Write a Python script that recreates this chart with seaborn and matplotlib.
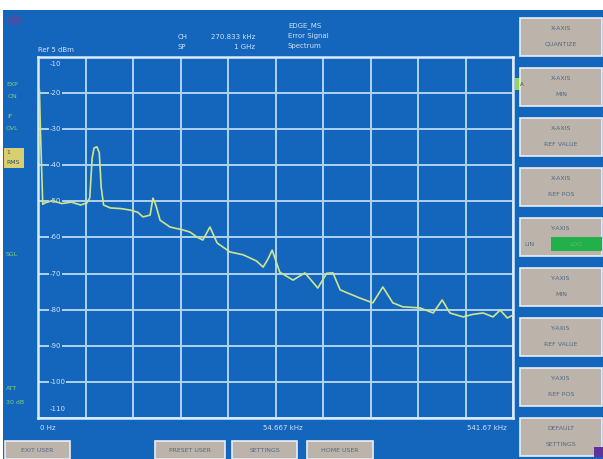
import matplotlib
matplotlib.use('Agg')
import matplotlib.pyplot as plt
import pandas as pd
import seaborn as sns
from matplotlib.patches import Rectangle, Circle

# Trace (x in grid divisions, y in dB)
div = [0.03, 0.05, 0.1, 0.15, 0.3, 0.5, 0.7, 0.9, 1.03, 1.09, 1.14, 1.18, 1.24, 1.29, 1.33,
       1.38, 1.52, 1.75, 1.94, 2.1, 2.21, 2.36, 2.42, 2.48, 2.57, 2.78, 3.05, 3.2, 3.35,
       3.47, 3.62, 3.77, 4.04, 4.32, 4.6, 4.74, 4.84, 4.93, 5.09, 5.37, 5.62, 5.89, 6.08,
       6.21, 6.36, 6.78, 7.05, 7.26, 7.47, 7.68, 8.04, 8.32, 8.51, 8.67, 8.95, 9.15, 9.37,
       9.58, 9.73, 9.88, 10.0]
level = [-19.1, -30.0, -50.8, -50.4, -49.8, -50.6, -50.2, -51.0, -50.4, -49.0, -38.0, -35.2,
         -34.9, -36.5, -46.0, -51.0, -51.8, -52.0, -52.4, -53.0, -54.3, -53.8, -49.1, -51.0,
         -55.2, -57.1, -57.9, -58.5, -59.9, -60.7, -57.1, -61.5, -64.0, -64.8, -66.5, -68.2,
         -66.0, -63.5, -69.6, -71.8, -69.8, -74.0, -69.9, -69.8, -74.5, -76.8, -78.1, -73.7,
         -78.1, -79.2, -79.5, -80.9, -77.3, -80.9, -82.0, -81.3, -80.9, -82.0, -80.1, -82.3,
         -81.5]

y_ticks = [-10, -20, -30, -40, -50, -60, -70, -80, -90, -100, -110]
x_labels = ['0 Hz', '54.667 kHz', '541.67 kHz']

right_buttons = [('X-AXIS', 'QUANTIZE'), ('X-AXIS', 'MIN'), ('X-AXIS', 'REF VALUE'),
                 ('X-AXIS', 'REF POS'), ('Y-AXIS', 'LIN'), ('Y-AXIS', 'MIN'),
                 ('Y-AXIS', 'REF VALUE'), ('Y-AXIS', 'REF POS'), ('DEFAULT', 'SETTINGS')]
bottom_buttons = [('EXIT USER', 5, 70), ('PRESET USER', 155, 225),
                  ('SETTINGS', 232, 297), ('HOME USER', 307, 373)]

df = pd.DataFrame({'div': div, 'level': level})

BLUE = '#1466bc'
GRID = '#b0d2f0'
LABEL = '#cfe2f6'
BTN = '#bcb3aa'
BTN_TXT = '#4f6a86'
TRACE = '#cde68e'

sns.set_style('dark')
plt.rcParams['font.family'] = ['DejaVu Sans']

W, H = 603, 459
fig = plt.figure(figsize=(6.03, 4.59), dpi=100, facecolor='white')

def fx(px):
    return px / W

def fy(py):
    return 1 - py / H

# blue screen
fig.patches.append(Rectangle((fx(3), 0), fx(600), fy(10), transform=fig.transFigure,
                             facecolor=BLUE, edgecolor='none', zorder=-2))
fig.patches.append(Circle((fx(15), fy(20)), 0.012, transform=fig.transFigure,
                          facecolor='#3f54a8', edgecolor='none', zorder=-1))

ax = fig.add_axes([fx(38), fy(418), fx(475), (418 - 57) / H])
ax.set_zorder(1)
ax.set_facecolor(BLUE)
sns.lineplot(data=df, x='div', y='level', ax=ax, color=TRACE, linewidth=1.2, zorder=5)
ax.set_xlim(0, 10)
ax.set_ylim(-110, -10)
ax.set_xticks(range(11))
ax.set_yticks(y_ticks)
ax.grid(True, color=GRID, linewidth=1.4)
ax.tick_params(left=False, bottom=False, labelleft=False, labelbottom=False)
ax.set_xlabel('')
ax.set_ylabel('')
for s in ax.spines.values():
    s.set_visible(True)
    s.set_color('#dcecfb')
    s.set_linewidth(1.8)

for v in y_ticks:
    yy = v
    if v == -10:
        yy = -12
    if v == -110:
        yy = -107.5
    ax.text(0.25, yy, f'{v}', color=LABEL, fontsize=5, ha='left', va='center',
            bbox=dict(facecolor=BLUE, edgecolor='none', pad=0.3), zorder=4)

# header texts
fig.text(fx(38), fy(50), 'Ref 5 dBm', color=LABEL, fontsize=5, va='center')
fig.text(fx(178), fy(37), 'CH', color=LABEL, fontsize=5, va='center')
fig.text(fx(255), fy(37), '270.833 kHz', color=LABEL, fontsize=5, va='center', ha='right')
fig.text(fx(178), fy(47), 'SP', color=LABEL, fontsize=5, va='center')
fig.text(fx(255), fy(47), '1 GHz', color=LABEL, fontsize=5, va='center', ha='right')
fig.text(fx(288), fy(26), 'EDGE_MS', color=LABEL, fontsize=5, va='center')
fig.text(fx(288), fy(36), 'Error Signal', color=LABEL, fontsize=5, va='center')
fig.text(fx(288), fy(46), 'Spectrum', color=LABEL, fontsize=5, va='center')

# frequency labels
fig.text(fx(40), fy(428), x_labels[0], color=LABEL, fontsize=5, va='center')
fig.text(fx(263), fy(428), x_labels[1], color=LABEL, fontsize=5, va='center')
fig.text(fx(507), fy(428), x_labels[2], color=LABEL, fontsize=5, va='center', ha='right')

# left status labels
green = '#7fd07a'
fig.text(fx(6), fy(84), 'EXP', color=green, fontsize=4.5, va='center')
fig.text(fx(8), fy(96), 'ON', color=green, fontsize=4.5, va='center')
fig.text(fx(7), fy(117), 'IF', color=green, fontsize=4.5, va='center')
fig.text(fx(6), fy(128), 'OVL', color=green, fontsize=4.5, va='center')
fig.patches.append(Rectangle((fx(4), fy(168)), fx(20), 20 / H, transform=fig.transFigure,
                             facecolor='#d8d070', edgecolor='none', zorder=2))
fig.text(fx(6), fy(153), '1', color='#405060', fontsize=4.5, va='center', zorder=3)
fig.text(fx(6), fy(163), 'RMS', color='#405060', fontsize=4.5, va='center', zorder=3)
fig.text(fx(6), fy(254), 'SGL', color=green, fontsize=4.5, va='center')
fig.text(fx(6), fy(389), 'ATT', color=green, fontsize=4.5, va='center')
fig.text(fx(6), fy(402), '30 dB', color=green, fontsize=4.5, va='center')

# marker box right of plot
fig.patches.append(Rectangle((fx(515), fy(90)), fx(13), 12 / H, transform=fig.transFigure,
                             facecolor='#9bd35a', edgecolor='none', zorder=2))
fig.text(fx(521.5), fy(84), 'A', color='#2a5a20', fontsize=4, ha='center', va='center', zorder=3)

# right soft keys
for i, (t1, t2) in enumerate(right_buttons):
    top = 18 + i * 50
    fig.patches.append(Rectangle((fx(520), fy(top + 38)), fx(82), 38 / H,
                                 transform=fig.transFigure, facecolor=BTN,
                                 edgecolor='#e8eef6', linewidth=1.2, zorder=2))
    fig.text(fx(561), fy(top + 11), t1, color=BTN_TXT, fontsize=4.5, ha='center',
             va='center', zorder=3)
    if t2 == 'LIN':
        fig.text(fx(524), fy(top + 26), 'LIN', color=BTN_TXT, fontsize=4.5, va='center',
                 zorder=3)
        fig.patches.append(Rectangle((fx(551), fy(top + 33)), fx(51), 14 / H,
                                     transform=fig.transFigure, facecolor='#22b04a',
                                     edgecolor='none', zorder=3))
        fig.text(fx(576), fy(top + 26), 'LOG', color='#60c070', fontsize=4.5,
                 ha='center', va='center', zorder=4)
    else:
        fig.text(fx(561), fy(top + 26), t2, color=BTN_TXT, fontsize=4.5, ha='center',
                 va='center', zorder=3)

fig.patches.append(Rectangle((fx(594), fy(457)), fx(9), 10 / H, transform=fig.transFigure,
                             facecolor='#6030a0', edgecolor='none', zorder=4))

# bottom soft keys
for name, x0, x1 in bottom_buttons:
    fig.patches.append(Rectangle((fx(x0), 0), fx(x1 - x0), 18 / H,
                                 transform=fig.transFigure, facecolor=BTN,
                                 edgecolor='#e8eef6', linewidth=1.2, zorder=2))
    fig.text(fx((x0 + x1) / 2), fy(450), name, color=BTN_TXT, fontsize=4.5,
             ha='center', va='center', zorder=3)

fig.savefig('out.png', dpi=100, facecolor='white')
